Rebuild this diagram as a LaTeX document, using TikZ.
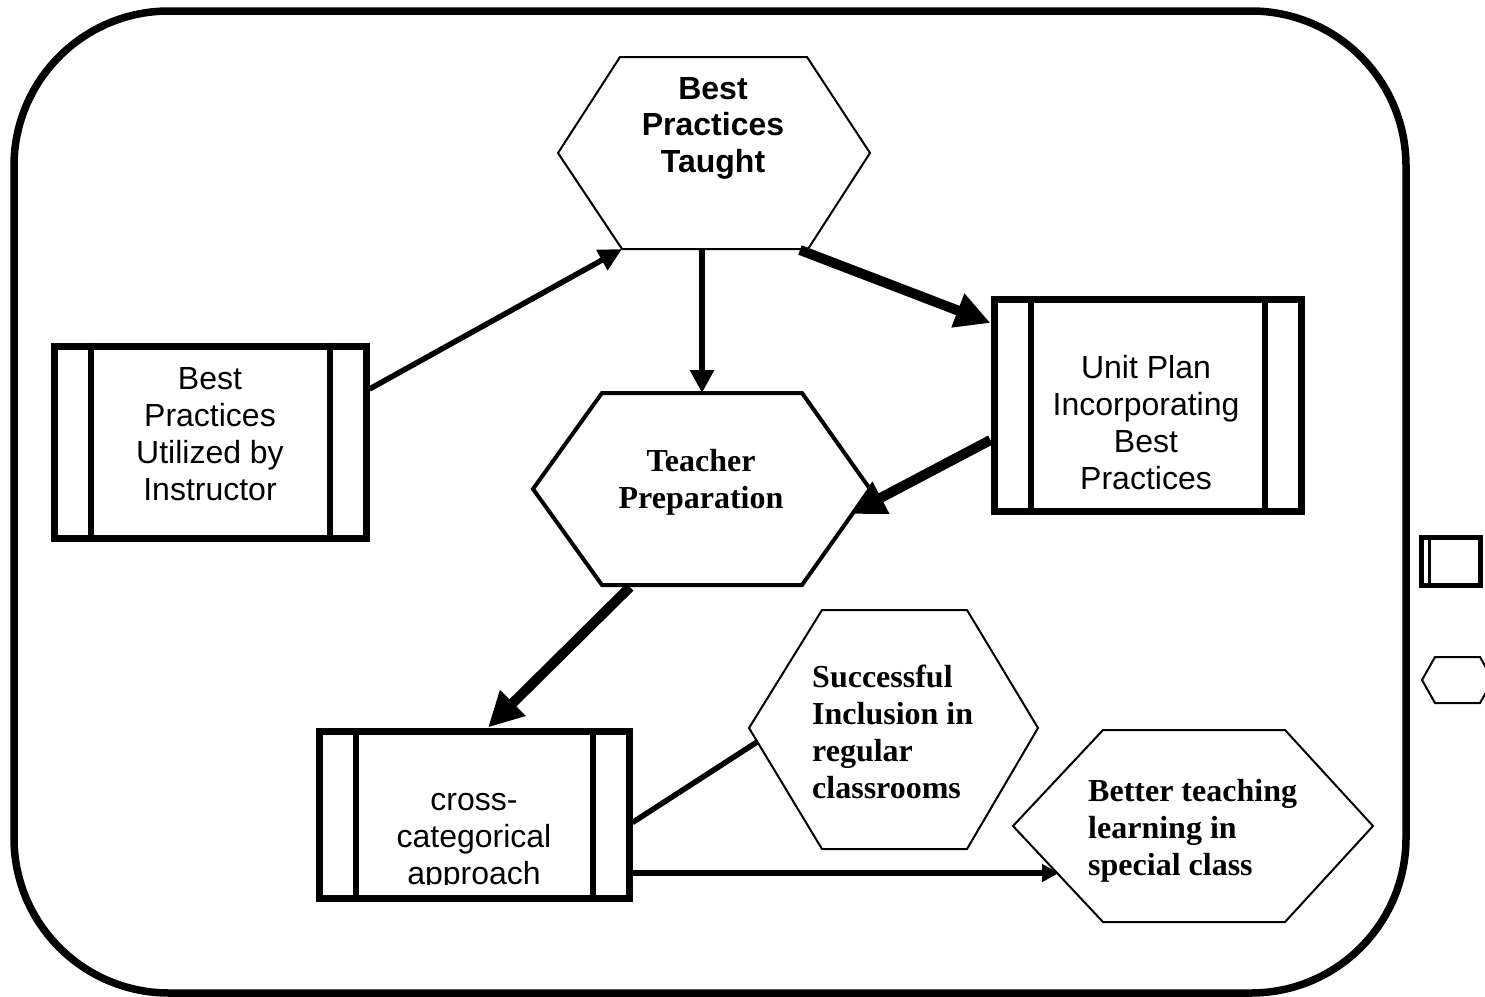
\documentclass[tikz,border=0pt]{standalone}
\usepackage{fontspec}
\setmainfont{Liberation Serif}
\setsansfont{Liberation Sans}
\usetikzlibrary{arrows.meta}
\tikzset{
 procbox/.style={draw, line width=7pt, inner sep=0pt},
 sidebar/.style={line width=6pt},
 boxtext/.style={font=\sffamily\fontsize{32}{37}\selectfont, align=center, inner sep=0pt, anchor=north},
 hexsans/.style={font=\sffamily\bfseries\fontsize{32}{36.5}\selectfont, align=center, inner sep=0pt, anchor=north},
 hextext/.style={font=\bfseries\fontsize{32}{37}\selectfont, inner sep=0pt},
 hexline/.style={line width=2pt},
 link/.style={line width=5.5pt},
 biglink/.style={line width=10pt, -{Triangle[length=35pt,width=34pt]}},
}
\begin{document}
\begin{tikzpicture}[x=1pt, y=-1pt]
 \useasboundingbox (0,0) rectangle (1485,996);
 % frame
 \draw[line width=7.5pt, rounded corners=155pt] (14,11) rectangle (1406,993);
 % boxes
 \node[procbox, minimum width=312pt, minimum height=192pt] (util) at (210,442) {};
 \node[procbox, minimum width=307pt, minimum height=212pt] (unitplan) at (1147.5,405) {};
 \node[procbox, minimum width=310pt, minimum height=167pt] (crosscat) at (474,814.5) {};
 \foreach \b in {util,unitplan,crosscat}{
 \draw[sidebar] ([xshift=40pt]\b.north west) -- ([xshift=40pt]\b.south west)
 ([xshift=-40pt]\b.north east) -- ([xshift=-40pt]\b.south east);
 }
 \node[boxtext] (utiltxt) at (210,367) {Best\\Practices\\Utilized by\\Instructor};
 \node[boxtext] (unittxt) at (1146,355) {Unit Plan\\Incorporating\\Best\\Practices};
 \begin{scope}
 \clip (crosscat.north west) rectangle ([yshift=17pt]crosscat.south east);
 \node[boxtext] (crosstxt) at (474,793) {cross-\\categorical\\approach};
 \end{scope}
 % hexagons
 \draw[hexline] (558,153) -- (620,57) -- (807,57) -- (870,153) -- (808,249) -- (622,249) coordinate (taughtSW) -- cycle;
 \draw[line width=4pt] (533,489) -- (602,393) -- (802,393) -- (870,489) -- (802,585) -- (602,585) -- cycle;
 \draw[hexline] (749,728) -- (822,610) -- (967,610) -- (1038,728) -- (967,849) -- (822,849) -- cycle;
 \draw[hexline] (1013,826) -- (1103,730) -- (1285,730) -- (1373,826) -- (1285,922) -- (1103,922) -- cycle;
 \coordinate (taughtS) at (702,249);
 \coordinate (taughtR) at (800,250);
 \coordinate (teachN) at (702,393);
 \coordinate (teachR) at (850,514);
 \coordinate (teachB) at (630,587);
 \coordinate (succL) at (757,742);
 \coordinate (betterL) at (1059,873);
 \node[hexsans] (taughttxt) at (713,77) {Best\\Practices\\Taught};
 \node[hextext, align=center, anchor=north] (teachtxt) at (701,449) {Teacher\\Preparation};
 \node[hextext, align=left, anchor=north west] (succtxt) at (812,665) {Successful\\Inclusion in\\regular\\classrooms};
 \node[hextext, align=left, anchor=north west] (bettertxt) at (1088,779) {Better teaching\\learning in\\special class};
 % connectors
 \draw[link, -{Triangle[length=23pt,width=22pt]}] ([yshift=53pt]util.east) -- (taughtSW);
 \draw[line width=6pt, -{Triangle[length=23pt,width=23pt]}] (taughtS) -- (teachN);
 \draw[biglink] (taughtR) -- ([yshift=82pt]unitplan.west);
 \draw[biglink] ([yshift=-35pt]unitplan.west) -- (teachR);
 \draw[biglink] (teachB) -- ([xshift=14pt]crosscat.north);
 \draw[link] ([yshift=-8pt]crosscat.east) -- (succL);
 \draw[line width=6pt, -{Triangle[length=17pt,width=17pt]}] ([yshift=-58.5pt]crosscat.east) -- (betterL);
 % legend
 \draw[line width=5pt] (1421.5,537.5) rectangle (1480.5,585.5);
 \draw[line width=3pt] (1429,537.5) -- (1429,585.5);
 \draw[hexline] (1422,680) -- (1435,657) -- (1480,657) -- (1493,680) -- (1480,703) -- (1435,703) -- cycle;
\end{tikzpicture}
\end{document}
